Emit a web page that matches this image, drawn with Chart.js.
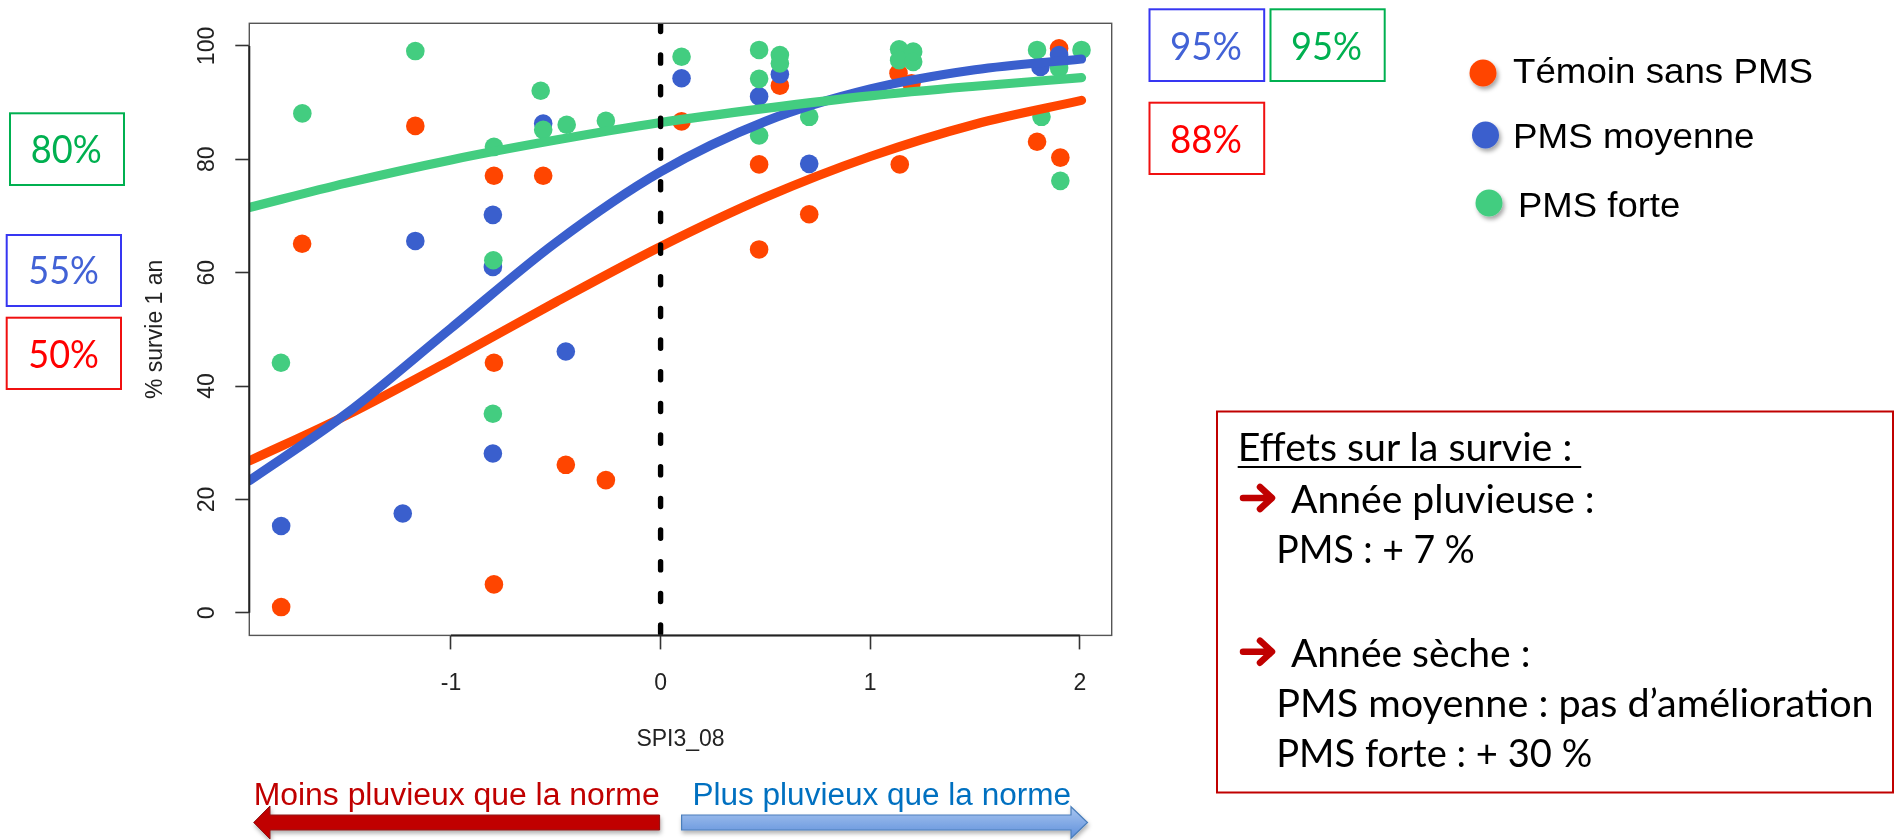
<!DOCTYPE html>
<html lang="fr">
<head>
<meta charset="utf-8">
<title>Survie à 1 an selon SPI3_08</title>
<script src="https://cdn.jsdelivr.net/npm/chart.js@4.4.1/dist/chart.umd.min.js"></script>
<style>
  html, body { margin:0; padding:0; background:#ffffff; }
  body { width:1895px; height:840px; position:relative; overflow:hidden; }
  #chartBox { position:absolute; left:0; top:0; width:1895px; height:840px; }
  #overlay { position:absolute; left:0; top:0; width:1895px; height:840px; pointer-events:none; }
  .calib { font-family: 'Lato', 'Open Sans', sans-serif; }
  .arial { font-family: 'Liberation Sans', Arial, sans-serif; }
</style>
</head>
<body>
<div id="chartBox"><canvas id="chart" width="1895" height="840"></canvas></div>
<svg id="overlay" xmlns="http://www.w3.org/2000/svg" width="1895" height="840" viewBox="0 0 1895 840">
  <defs>
    <filter id="dotShadow" x="-60%" y="-60%" width="220%" height="220%">
      <feDropShadow dx="2" dy="3" stdDeviation="2" flood-color="#000" flood-opacity="0.35"/>
    </filter>
    <filter id="arrowShadow" x="-5%" y="-50%" width="110%" height="200%">
      <feDropShadow dx="1" dy="3" stdDeviation="2" flood-color="#000" flood-opacity="0.3"/>
    </filter>
    <linearGradient id="blueArrowFill" x1="0" y1="0" x2="0" y2="1">
      <stop offset="0" stop-color="#A9C6F0"/>
      <stop offset="1" stop-color="#5E8FDB"/>
    </linearGradient>
  </defs>

  <!-- boxes with percentages, left -->
  <g class="calib" font-size="38">
    <rect x="10" y="113.3" width="114" height="71.7" fill="none" stroke="#00B050" stroke-width="2"/>
    <text x="30.7" y="163.3" fill="#00B050" textLength="71" lengthAdjust="spacingAndGlyphs">80%</text>
    <rect x="6.7" y="235" width="114.3" height="71" fill="none" stroke="#3636F2" stroke-width="2"/>
    <text x="28.3" y="284.3" fill="#4262D6" textLength="70.7" lengthAdjust="spacingAndGlyphs">55%</text>
    <rect x="6.7" y="317.7" width="114.3" height="71.3" fill="none" stroke="#F01010" stroke-width="2"/>
    <text x="28.3" y="367.7" fill="#FF0000" textLength="70.7" lengthAdjust="spacingAndGlyphs">50%</text>

    <!-- boxes top right -->
    <rect x="1149.5" y="9.3" width="114.7" height="71.7" fill="none" stroke="#3636F2" stroke-width="2"/>
    <text x="1170" y="60" fill="#4262D6" textLength="72" lengthAdjust="spacingAndGlyphs">95%</text>
    <rect x="1270.5" y="9.3" width="114.2" height="71.7" fill="none" stroke="#00B050" stroke-width="2"/>
    <text x="1291" y="60" fill="#00B050" textLength="71" lengthAdjust="spacingAndGlyphs">95%</text>
    <rect x="1149.5" y="102.7" width="114.7" height="71.3" fill="none" stroke="#F01010" stroke-width="2"/>
    <text x="1170" y="153.3" fill="#FF0000" textLength="72" lengthAdjust="spacingAndGlyphs">88%</text>
  </g>

  <!-- legend (filled by script) -->
  <g id="legend" class="arial" font-size="35"></g>

  <!-- effects text box -->
  <rect x="1217" y="411.5" width="676" height="381" fill="none" stroke="#C00000" stroke-width="2"/>
  <g class="calib" font-size="38" fill="#000">
    <text x="1237.7" y="460.7" textLength="334.6" lengthAdjust="spacingAndGlyphs">Effets sur la survie :</text>
    <line x1="1237.7" y1="467" x2="1581.2" y2="467" stroke="#000" stroke-width="2"/>
    <text x="1291" y="513" textLength="303.6" lengthAdjust="spacingAndGlyphs">Année pluvieuse :</text>
    <text x="1276.2" y="563" textLength="198.6" lengthAdjust="spacingAndGlyphs">PMS : + 7 %</text>
    <text x="1291" y="666.7" textLength="239.4" lengthAdjust="spacingAndGlyphs">Année sèche :</text>
    <text x="1276.2" y="716.7" textLength="597.5" lengthAdjust="spacingAndGlyphs">PMS moyenne : pas d’amélioration</text>
    <text x="1276.2" y="766.7" textLength="316" lengthAdjust="spacingAndGlyphs">PMS forte : + 30 %</text>
  </g>
  <g fill="none" stroke="#C00000" stroke-width="6.5" stroke-linecap="round" stroke-linejoin="round">
    <path d="M1243,498 L1270,498 M1260,487 L1272,498 L1260,509"/>
    <path d="M1243,651.7 L1270,651.7 M1260,640.7 L1272,651.7 L1260,662.7"/>
  </g>

  <!-- bottom arrows -->
  <g class="arial" font-size="31">
    <text x="253.7" y="805" fill="#C00000" textLength="406" lengthAdjust="spacingAndGlyphs">Moins pluvieux que la norme</text>
    <text x="692.5" y="805" fill="#0070C0" textLength="378.5" lengthAdjust="spacingAndGlyphs">Plus pluvieux que la norme</text>
  </g>
  <path filter="url(#arrowShadow)" d="M253.7,822.5 L270,806 L270,815 L659.6,815 L659.6,830 L270,830 L270,839 Z" fill="#C00000" stroke="#8E1010" stroke-width="1"/>
  <path filter="url(#arrowShadow)" d="M681.6,815 L1071,815 L1071,806.7 L1087.5,822.5 L1071,838.3 L1071,830 L681.6,830 Z" fill="url(#blueArrowFill)" stroke="#4A7EBB" stroke-width="1.2"/>
</svg>

<script>
// ---------- data ----------
const seriesNames  = ['Témoin sans PMS', 'PMS moyenne', 'PMS forte'];
const seriesColors = ['#FF4500', '#3A5FCD', '#43CD80'];

// observed survival (%) vs SPI3_08
const temoinX = [-1.81, -1.71, -1.17, -0.795, -0.795, -0.795, -0.56, -0.452, -0.261, 0.10, 0.47, 0.47, 0.569, 0.709, 1.141, 1.135, 1.197, 1.796, 1.907, 1.901];
const temoinY = [1.0, 65.1, 85.9, 77.1, 44.1, 5.0, 77.1, 26.1, 23.4, 86.7, 79.1, 64.1, 93.0, 70.3, 79.1, 95.2, 93.4, 83.1, 80.3, 99.6];

const moyenneX = [-1.81, -1.23, -1.17, -0.80, -0.80, -0.80, -0.56, -0.452, 0.10, 0.47, 0.569, 0.709, 1.812, 1.901];
const moyenneY = [15.3, 17.5, 65.6, 70.2, 61.0, 28.1, 86.3, 46.1, 94.3, 91.1, 95.0, 79.2, 96.3, 98.4];

const forteX = [-1.811, -1.709, -1.17, -0.795, -0.798, -0.80, -0.572, -0.56, -0.448, -0.261, 0.10, 0.47, 0.47, 0.47, 0.569, 0.569, 0.709, 1.138, 1.138, 1.205, 1.205, 1.796, 1.817, 1.901, 1.907, 2.008];
const forteY = [44.1, 88.1, 99.1, 82.2, 62.2, 35.1, 92.1, 85.2, 86.1, 86.8, 98.1, 99.3, 94.2, 84.2, 98.4, 96.9, 87.5, 99.4, 97.5, 99.0, 97.2, 99.3, 87.5, 96.1, 76.2, 99.3];

// fitted curves
const curveX       = [-1.962, -1.5, -1.0, -0.5, 0.0, 0.5, 1.0, 1.5, 2.008];
const temoinCurve  = [26.8, 34.8, 44.6, 54.8, 64.6, 73.3, 80.5, 86.2, 90.4];
const moyenneCurve = [23.3, 35.1, 50.2, 65.3, 77.8, 86.7, 92.4, 95.8, 97.7];
const forteCurve   = [71.5, 75.8, 79.9, 83.4, 86.5, 89.0, 91.2, 92.9, 94.4];

// reference line SPI = 0
const refLineX = [0, 0];
const refLineY = [104, -4];

const xTicks = [-1, 0, 1, 2];
const yTicks = [0, 20, 40, 60, 80, 100];
const xTitle = 'SPI3_08';
const yTitle = '% survie 1 an';

// ---------- helpers ----------
function pts(xs, ys) { return xs.map((x, i) => ({ x: x, y: ys[i] })); }

const tickFont = { family: "'Liberation Sans', Arial, sans-serif", size: 23 };

const rBox = {
  id: 'rBox',
  afterDatasetsDraw(chart) {
    const { ctx, chartArea: a, scales } = chart;
    const xs = scales.x, ys = scales.y;
    ctx.save();
    ctx.strokeStyle = '#555';
    ctx.lineWidth = 1.4;
    ctx.strokeRect(a.left, a.top, a.right - a.left, a.bottom - a.top);
    ctx.strokeStyle = '#222';
    ctx.lineWidth = 2;
    ctx.beginPath();
    ctx.moveTo(xs.getPixelForValue(xTicks[0]), a.bottom);
    ctx.lineTo(xs.getPixelForValue(xTicks[xTicks.length - 1]), a.bottom);
    ctx.moveTo(a.left, ys.getPixelForValue(yTicks[0]));
    ctx.lineTo(a.left, ys.getPixelForValue(yTicks[yTicks.length - 1]));
    ctx.stroke();
    ctx.restore();
  }
};

const pointSet = (i, xs, ys, order) => ({
  label: seriesNames[i], data: pts(xs, ys), showLine: false,
  backgroundColor: seriesColors[i], borderColor: seriesColors[i],
  pointRadius: 9.3, pointBorderWidth: 0, order: order
});
const curveSet = (i, ys, order) => ({
  label: seriesNames[i] + ' (ajustement)', data: pts(curveX, ys), showLine: true,
  borderColor: seriesColors[i], backgroundColor: seriesColors[i], borderWidth: 9.2,
  pointRadius: 0, cubicInterpolationMode: 'monotone', borderCapStyle: 'round',
  fill: false, order: order, clip: 0
});

new Chart(document.getElementById('chart'), {
  type: 'scatter',
  data: {
    datasets: [
      pointSet(0, temoinX, temoinY, 10),
      pointSet(1, moyenneX, moyenneY, 9),
      pointSet(2, forteX, forteY, 8),
      curveSet(0, temoinCurve, 6),
      curveSet(1, moyenneCurve, 5),
      curveSet(2, forteCurve, 4),
      {
        label: 'SPI = 0', data: pts(refLineX, refLineY), showLine: true,
        borderColor: '#000', borderWidth: 5.4, borderDash: [8.2, 23.47],
        borderCapStyle: 'round', pointRadius: 0, fill: false, order: 1, clip: 0
      }
    ]
  },
  options: {
    responsive: false,
    animation: false,
    events: [],
    layout: { padding: { left: 0, top: 23.3, right: 783.3, bottom: 0 } },
    plugins: { legend: { display: false }, tooltip: { enabled: false } },
    scales: {
      x: {
        type: 'linear', min: -1.962, max: 2.152,
        afterBuildTicks: s => { s.ticks = xTicks.map(v => ({ value: v })); },
        afterFit: s => { s.height = 840 - 635.4; },
        border: { display: false },
        grid: { display: true, drawOnChartArea: false, drawTicks: true, tickLength: 14, tickColor: '#333', tickWidth: 1.6 },
        ticks: { font: tickFont, color: '#222', padding: 20, autoSkip: false, maxRotation: 0, minRotation: 0, callback: v => String(v) },
        title: { display: true, text: xTitle, font: tickFont, color: '#222', padding: { top: 0, bottom: 86.2 } }
      },
      y: {
        type: 'linear', min: -4, max: 104,
        afterBuildTicks: s => { s.ticks = yTicks.map(v => ({ value: v })); },
        afterFit: s => { s.width = 249.3; },
        border: { display: false },
        grid: { display: true, drawOnChartArea: false, drawTicks: true, tickLength: 14, tickColor: '#333', tickWidth: 1.6 },
        ticks: { font: tickFont, color: '#222', padding: 8, minRotation: 90, maxRotation: 90, crossAlign: 'center', autoSkip: false, callback: v => String(v) },
        title: { display: true, text: yTitle, font: tickFont, color: '#222', padding: { top: 142.2, bottom: 0 } }
      }
    }
  },
  plugins: [rBox]
});

// ---------- legend overlay ----------
const legendLayout = [
  { cx: 1483, cy: 73, tx: 1513, ty: 83.3, tl: 300 },
  { cx: 1485.5, cy: 135, tx: 1513, ty: 148.3, tl: 241.5 },
  { cx: 1489, cy: 203, tx: 1518, ty: 216.7, tl: 162.3 }
];
const NS = 'http://www.w3.org/2000/svg';
const lg = document.getElementById('legend');
seriesNames.forEach((name, i) => {
  const L = legendLayout[i];
  const c = document.createElementNS(NS, 'circle');
  c.setAttribute('cx', L.cx); c.setAttribute('cy', L.cy); c.setAttribute('r', 13.5);
  c.setAttribute('fill', seriesColors[i]); c.setAttribute('filter', 'url(#dotShadow)');
  lg.appendChild(c);
  const t = document.createElementNS(NS, 'text');
  t.setAttribute('x', L.tx); t.setAttribute('y', L.ty); t.setAttribute('fill', '#000');
  t.setAttribute('textLength', L.tl); t.setAttribute('lengthAdjust', 'spacingAndGlyphs');
  t.textContent = name;
  lg.appendChild(t);
});
</script>
</body>
</html>
